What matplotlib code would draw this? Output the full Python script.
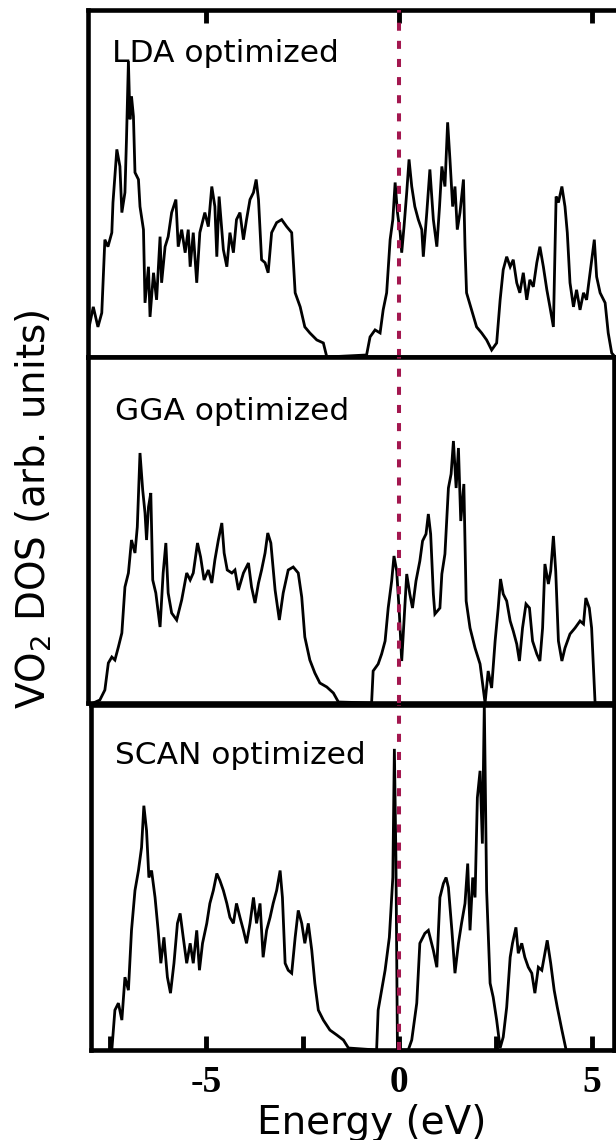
import matplotlib.pyplot as plt

# DOS: energy in eV, DOS in arb. units
lda_energy = [-8.06, -7.92, -7.80, -7.70, -7.62, -7.54, -7.44, -7.41, -7.31, -7.23,
              -7.18, -7.10, -7.06, -7.01, -6.97, -6.93, -6.88, -6.84, -6.75, -6.71,
              -6.62, -6.58, -6.49, -6.45, -6.36, -6.28, -6.19, -6.15, -6.06, -5.98,
              -5.89, -5.78, -5.72, -5.63, -5.54, -5.46, -5.41, -5.33, -5.24, -5.16,
              -5.03, -4.94, -4.85, -4.77, -4.72, -4.66, -4.55, -4.46, -4.38, -4.29,
              -4.21, -4.12, -4.03, -3.95, -3.86, -3.77, -3.70, -3.64, -3.56, -3.47,
              -3.39, -3.30, -3.17, -3.04, -2.91, -2.78, -2.69, -2.56, -2.44, -2.31,
              -2.13, -1.96, -1.87,
              -0.84, -0.75, -0.62, -0.49, -0.41, -0.32, -0.23, -0.16, -0.10, -0.04,
              0.03, 0.07, 0.13, 0.20, 0.26, 0.33, 0.41, 0.50, 0.59, 0.63,
              0.72, 0.80, 0.89, 0.98, 1.05, 1.11, 1.19, 1.26, 1.32, 1.39,
              1.45, 1.51, 1.58, 1.67, 1.71, 1.75, 1.88, 2.01, 2.14, 2.27,
              2.40, 2.53, 2.62, 2.70, 2.79, 2.88, 2.96, 3.05, 3.13, 3.22,
              3.31, 3.39, 3.48, 3.57, 3.65, 3.74, 3.83, 3.91, 4.00, 4.07,
              4.13, 4.22, 4.30, 4.36, 4.43, 4.52, 4.60, 4.69, 4.78, 4.86,
              4.95, 5.06, 5.12, 5.21, 5.34, 5.42, 5.51, 5.60]
lda_dos = [24, 50, 30, 44, 117, 110, 124, 154, 207, 190,
           144, 164, 217, 295, 237, 260, 240, 184, 177, 150,
           127, 54, 90, 40, 84, 57, 120, 74, 110, 120,
           144, 157, 110, 127, 104, 127, 90, 124, 74, 124,
           144, 130, 170, 150, 100, 160, 107, 90, 124, 104,
           137, 144, 117, 137, 157, 164, 177, 157, 97, 94,
           84, 124, 134, 137, 130, 124, 64, 50, 30, 24,
           17, 14, 0,
           2, 20, 27, 24, 47, 64, 117, 137, 174, 144,
           124, 104, 130, 164, 197, 170, 150, 137, 127, 100,
           144, 187, 137, 110, 150, 190, 170, 234, 197, 150,
           170, 127, 144, 177, 110, 64, 47, 30, 24, 17,
           7, 14, 57, 87, 100, 90, 97, 74, 64, 84,
           57, 77, 70, 94, 110, 90, 67, 50, 30, 160,
           154, 170, 150, 124, 74, 50, 67, 47, 64, 57,
           84, 117, 80, 64, 54, 24, 4, 0]

gga_energy = [-7.92, -7.75, -7.62, -7.53, -7.44, -7.36, -7.27, -7.18, -7.10, -7.01,
              -6.93, -6.84, -6.78, -6.71, -6.64, -6.58, -6.54, -6.49, -6.43, -6.38,
              -6.30, -6.19, -6.11, -6.04, -5.98, -5.89, -5.76, -5.63, -5.50, -5.41,
              -5.33, -5.22, -5.14, -5.05, -4.94, -4.85, -4.77, -4.68, -4.59, -4.53,
              -4.45, -4.33, -4.25, -4.16, -4.03, -3.90, -3.82, -3.73, -3.64, -3.56,
              -3.47, -3.40, -3.32, -3.21, -3.10, -3.00, -2.87, -2.74, -2.61, -2.52,
              -2.44, -2.31, -2.18, -2.05, -1.87, -1.70, -1.57,
              -0.71, -0.67, -0.54, -0.45, -0.36, -0.28, -0.19, -0.13, -0.06, 0.01,
              0.07, 0.14, 0.20, 0.28, 0.35, 0.44, 0.54, 0.61, 0.70, 0.76,
              0.82, 0.89, 0.93, 1.06, 1.11, 1.19, 1.28, 1.35, 1.41, 1.48,
              1.54, 1.60, 1.68, 1.74, 1.84, 1.97, 2.10, 2.23, 2.31, 2.40,
              2.49, 2.57, 2.63, 2.70, 2.79, 2.88, 2.96, 3.05, 3.12, 3.20,
              3.29, 3.38, 3.46, 3.57, 3.65, 3.72, 3.78, 3.87, 3.93, 4.00,
              4.06, 4.13, 4.22, 4.30, 4.43, 4.56, 4.69, 4.78, 4.84, 4.93,
              4.99, 5.08, 5.60]
gga_dos = [0, 3, 13, 40, 46, 43, 56, 70, 116, 130,
           163, 150, 176, 250, 213, 190, 163, 196, 210, 123,
           110, 76, 130, 160, 110, 90, 83, 103, 130, 123,
           130, 160, 146, 123, 133, 120, 143, 163, 180, 150,
           133, 130, 133, 113, 130, 140, 116, 100, 120, 133,
           150, 170, 160, 113, 83, 110, 133, 136, 130, 106,
           66, 43, 30, 20, 16, 10, 1,
           0, 32, 39, 49, 62, 95, 122, 147, 132, 89,
           42, 89, 129, 109, 95, 122, 142, 162, 169, 189,
           169, 109, 89, 95, 129, 149, 215, 229, 262, 215,
           255, 182, 219, 102, 75, 55, 39, 0, 32, 15,
           62, 95, 124, 109, 102, 82, 72, 59, 42, 75,
           99, 95, 62, 49, 42, 75, 139, 119, 132, 167,
           132, 62, 42, 55, 69, 75, 82, 79, 105, 95,
           75, 0, 0]

scan_energy = [-7.44, -7.36, -7.27, -7.18, -7.10, -7.01, -6.93, -6.84, -6.75, -6.67,
               -6.61, -6.54, -6.48, -6.41, -6.32, -6.24, -6.17, -6.09, -6.00, -5.92,
               -5.83, -5.74, -5.67, -5.59, -5.50, -5.41, -5.33, -5.24, -5.17, -5.09,
               -4.98, -4.90, -4.81, -4.72, -4.64, -4.55, -4.46, -4.38, -4.29, -4.21,
               -4.12, -4.03, -3.95, -3.86, -3.77, -3.69, -3.60, -3.52, -3.43, -3.34,
               -3.26, -3.17, -3.08, -3.02, -2.95, -2.87, -2.78, -2.69, -2.61, -2.52,
               -2.44, -2.35, -2.26, -2.18, -2.09, -1.96, -1.79, -1.61, -1.44, -1.31,
               -0.58, -0.54, -0.45, -0.36, -0.25, -0.16, -0.12, -0.08, -0.04,
               0.24, 0.33, 0.46, 0.54, 0.67, 0.76, 0.89, 0.98, 1.06, 1.15,
               1.22, 1.28, 1.37, 1.45, 1.54, 1.62, 1.71, 1.78, 1.84, 1.91,
               1.97, 2.03, 2.10, 2.16, 2.21, 2.27, 2.36, 2.44, 2.53, 2.62,
               2.70, 2.79, 2.88, 2.94, 3.03, 3.09, 3.18, 3.26, 3.35, 3.44,
               3.52, 3.61, 3.70, 3.78, 3.84, 3.93, 4.02, 4.10, 4.22, 4.33,
               5.60]
scan_dos = [0, 40, 47, 30, 73, 60, 120, 160, 180, 203,
            245, 220, 173, 180, 153, 120, 87, 113, 73, 57,
            87, 127, 137, 113, 87, 107, 87, 120, 80, 107,
            127, 147, 160, 177, 170, 160, 147, 133, 127, 147,
            133, 120, 107, 127, 153, 127, 147, 93, 120, 133,
            147, 160, 180, 153, 87, 80, 77, 113, 140, 127,
            107, 127, 100, 67, 40, 30, 20, 15, 10, 2,
            0, 40, 60, 80, 113, 173, 302, 193, 0,
            0, 10, 47, 107, 117, 120, 100, 83, 153, 167,
            173, 163, 120, 77, 107, 127, 147, 187, 120, 173,
            153, 253, 280, 207, 347, 160, 67, 53, 30, 2,
            13, 43, 93, 107, 123, 97, 107, 93, 83, 77,
            57, 83, 80, 97, 110, 87, 60, 43, 20, 0,
            0]

panel_labels = ['LDA optimized', 'GGA optimized', 'SCAN optimized']
major_ticks = [-5, 0, 5]
minor_ticks = [-7.5, -2.5, 2.5]

W, H = 616, 1140
fig = plt.figure(figsize=(W / 100, H / 100), dpi=100)

# pixel column of E = 0 and pixels per eV in the original figure
x0, ppe = 399, 38.6
fermi_color = '#a3174f'


def add_panel(left, top, right, bottom):
    ax = fig.add_axes([left / W, 1 - bottom / H, (right - left) / W, (bottom - top) / H])
    ax.set_xlim((left - x0) / ppe, (right - x0) / ppe)
    ax.set_ylim(0, 346)
    ax.set_yticks([])
    for sp in ax.spines.values():
        sp.set_linewidth(3.3)
    return ax


ax_lda = add_panel(88, 10, 618, 357)
ax_gga = add_panel(88, 357, 614, 703)
ax_scan = add_panel(90.5, 705, 614, 1050)

panels = [(ax_lda, lda_energy, lda_dos, 0.046, 0.850),
          (ax_gga, gga_energy, gga_dos, 0.051, 0.818),
          (ax_scan, scan_energy, scan_dos, 0.047, 0.829)]

for (ax, e, d, tx, ty), label in zip(panels, panel_labels):
    ax.plot(e, d, color='black', lw=2.0, solid_joinstyle='miter')
    ax.axvline(0, color=fermi_color, lw=2.9, ls=(0, (2.0, 2.5)), zorder=5)
    ax.text(tx, ty, label, transform=ax.transAxes, fontsize=22.5, va='baseline')

ax_lda.spines['right'].set_visible(False)
ax_lda.set_xticks(major_ticks)
ax_lda.tick_params(axis='x', direction='in', length=9.5, width=3.5,
                   top=True, bottom=False, labeltop=False, labelbottom=False)

ax_gga.set_xticks([])

ax_scan.set_xticks(major_ticks)
ax_scan.set_xticks(minor_ticks, minor=True)
ax_scan.set_xticklabels(['-5', '0', '5'], fontfamily='Liberation Serif',
                        fontweight='bold', fontsize=27)
ax_scan.tick_params(axis='x', which='both', direction='in', length=10, width=3.5,
                    pad=11)

fig.text(371.5 / W, 1 - 1134 / H, 'Energy (eV)', fontsize=28,
         ha='center', va='baseline')
fig.text(34 / W, 1 - 509 / H, 'VO$_2$ DOS (arb. units)', fontsize=28,
         rotation=90, ha='center', va='center')

fig.savefig('out.png', dpi=100)
